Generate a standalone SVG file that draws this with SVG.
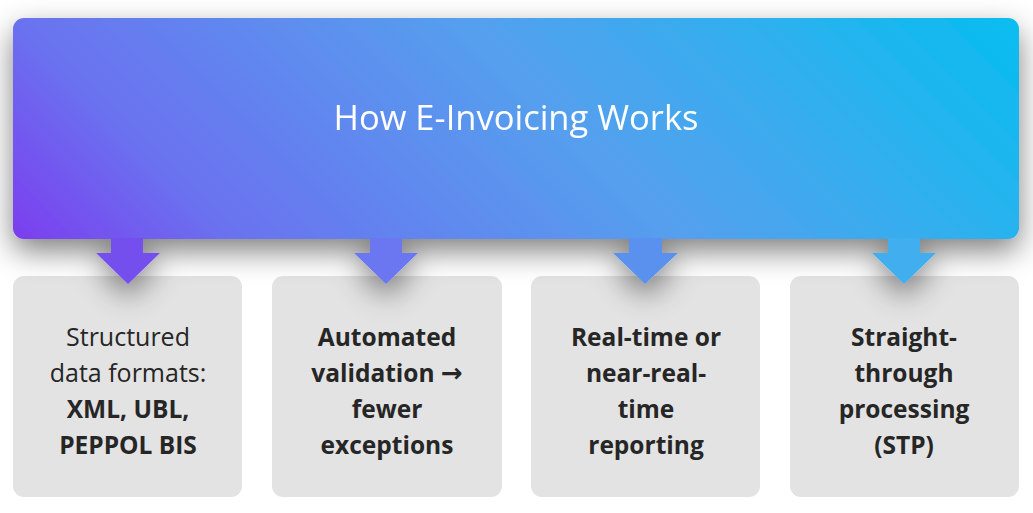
<svg xmlns="http://www.w3.org/2000/svg" width="1033" height="513" viewBox="0 0 1033 513">
<defs>
<linearGradient id="hdr" gradientUnits="userSpaceOnUse" x1="209" y1="435" x2="823" y2="-178">
<stop offset="0" stop-color="#7b3eee"/>
<stop offset="0.18" stop-color="#6a72ef"/>
<stop offset="0.55" stop-color="#55a0ee"/>
<stop offset="0.81" stop-color="#2ab2ee"/>
<stop offset="1" stop-color="#06bdf0"/>
</linearGradient>
<filter id="sh" x="-10%" y="-30%" width="120%" height="170%">
<feGaussianBlur in="SourceAlpha" stdDeviation="15"/>
<feOffset dy="12" result="b"/>
<feComponentTransfer><feFuncA type="linear" slope="0.5"/></feComponentTransfer>
<feMerge><feMergeNode/><feMergeNode in="SourceGraphic"/></feMerge>
</filter>
<style>
.box{fill:#e3e3e3}
.t{font-family:"Open Sans","Noto Sans",sans-serif;font-size:25px;fill:#262626;text-anchor:middle}
.b{font-weight:bold;font-size:24.5px}
.ar{font-family:"DejaVu Sans",sans-serif;font-size:26px}
.title{font-family:"Open Sans","Noto Sans",sans-serif;font-size:34.5px;fill:#ffffff;text-anchor:middle}
</style>
</defs>
<rect width="1033" height="513" fill="#ffffff"/>
<g id="node-formats">
<rect class="box" x="13" y="276" width="229" height="221" rx="11"/>
<text class="t" x="128" y="346">Structured</text>
<text class="t" x="128" y="382">data formats:</text>
<text class="t b" x="128" y="418">XML, UBL,</text>
<text class="t b" x="128" y="454">PEPPOL BIS</text>
</g>
<g id="node-validation">
<rect class="box" x="272" y="276" width="230" height="221" rx="11"/>
<text class="t b" x="387" y="346">Automated</text>
<text class="t b" x="387" y="382">validation <tspan class="ar">→</tspan></text>
<text class="t b" x="387" y="418">fewer</text>
<text class="t b" x="387" y="454">exceptions</text>
</g>
<g id="node-reporting">
<rect class="box" x="531" y="276" width="229" height="221" rx="11"/>
<text class="t b" x="646" y="346">Real-time or</text>
<text class="t b" x="646" y="382">near-real-</text>
<text class="t b" x="646" y="418">time</text>
<text class="t b" x="646" y="454">reporting</text>
</g>
<g id="node-stp">
<rect class="box" x="790" y="276" width="229" height="221" rx="11"/>
<text class="t b" x="904" y="346">Straight-</text>
<text class="t b" x="904" y="382">through</text>
<text class="t b" x="904" y="418">processing</text>
<text class="t b" x="904" y="454">(STP)</text>
</g>
<g id="node-header" filter="url(#sh)">
<rect x="13" y="18" width="1006" height="221" rx="11" fill="url(#hdr)"/>
<g id="connectors">
<polygon points="111,238 143,238 143,253 160,253 128,284 96,253 111,253" fill="#7450ee"/>
<polygon points="370,238 402,238 402,253 418,253 386,284 354,253 370,253" fill="#6a77f0"/>
<polygon points="629,238 662,238 662,253 678,253 645,284 613,253 629,253" fill="#5a90ee"/>
<polygon points="888,238 920,238 920,253 936,253 904,284 872,253 888,253" fill="#3faeef"/>
</g>
<text class="title" x="516" y="130">How E-Invoicing Works</text>
</g>
</svg>
